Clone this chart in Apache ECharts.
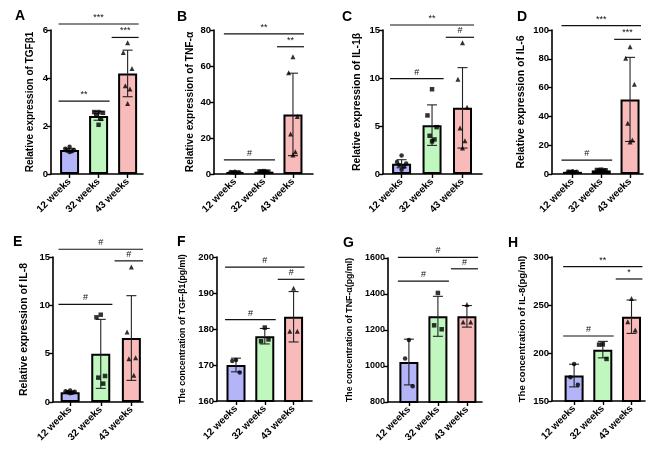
<!DOCTYPE html>
<html><head><meta charset="utf-8">
<script src="https://cdn.jsdelivr.net/npm/echarts@6/dist/echarts.min.js"></script>
<style>html,body{margin:0;padding:0;background:#fff}#c{width:669px;height:451px}</style>
</head><body><div id="c"></div>
<script>
// ---------- DATA ----------
const categories = ['12 weeks', '32 weeks', '43 weeks'];
const panelLetters = ['A', 'B', 'C', 'D', 'E', 'F', 'G', 'H'];
const yNames = [
  'Relative expression of TGFβ1',
  'Relative expression of TNF-α',
  'Relative expression of IL-1β',
  'Relative expression of IL-6',
  'Relative expression of IL-8',
  'The concentration of TGF-β1(pg/ml)',
  'The concentration of TNF-α(pg/ml)',
  'The concentration of IL-8(pg/ml)'
];
const yMin = [0, 0, 0, 0, 0, 160, 800, 150];
const yMax = [6, 80, 15, 100, 15, 200, 1600, 300];
const yStep = [2, 20, 5, 20, 5, 10, 200, 50];

// A: TGFβ1
const aMeans = [1.0, 2.42, 4.19];
const aSD = [0.07, 0.18, 0.97];
const aPoints = [[1.14, 1.05, 1.0, 0.98, 0.95, 0.92], [2.58, 2.58, 2.55, 2.45, 2.3, 2.05], [5.47, 5.06, 4.4, 3.68, 3.54, 2.94]];
const aBrackets = [[0, 1, 3.04], [1, 2, 5.69], [0, 2, 6.25]];
const aMarks = ['**', '***', '***'];
// B: TNF-α
const bMeans = [1.0, 1.3, 33.1];
const bSD = [0.2, 0.3, 22.9];
const bPoints = [[1.2, 1.1, 1.0, 1.0, 0.9, 0.8], [1.6, 1.5, 1.3, 1.2, 1.1, 1.1], [65.2, 56.3, 31.9, 22.2, 12.4, 10.6]];
const bBrackets = [[0, 1, 7.8], [1, 2, 70.7], [0, 2, 77.8]];
const bMarks = ['#', '**', '**'];
// C: IL-1β
const cMeans = [1.07, 5.09, 6.89];
const cSD = [0.42, 2.11, 4.19];
const cPoints = [[1.94, 1.25, 1.1, 0.95, 0.75, 0.45], [8.83, 6.1, 4.88, 3.98, 3.6, 3.4], [13.68, 9.87, 6.96, 4.78, 3.46, 2.7]];
const cBrackets = [[0, 1, 9.94], [1, 2, 14.24], [0, 2, 15.52]];
const cMarks = ['#', '#', '**'];
// D: IL-6
const dMeans = [1.5, 2.5, 51.8];
const dSD = [0.3, 0.4, 29.2];
const dPoints = [[1.9, 1.7, 1.5, 1.4, 1.3, 1.2], [3.0, 2.8, 2.6, 2.4, 2.2, 2.0], [88.4, 80.3, 62.3, 35.2, 23.6, 22.2]];
const dBrackets = [[0, 1, 9.7], [1, 2, 93.5], [0, 2, 103]];
const dMarks = ['#', '***', '***'];
// E: IL-8
const eMeans = [1.02, 4.98, 6.62];
const eSD = [0.1, 3.57, 4.38];
const ePoints = [[1.2, 1.1, 1.05, 1.0, 0.95, 0.9], [9.03, 8.76, 2.69, 2.52, 1.9], [13.97, 7.24, 4.59, 4.48, 2.76]];
const eBrackets = [[0, 1, 10.1], [1, 2, 14.6], [0, 2, 15.8]];
const eMarks = ['#', '#', '#'];
// F: TGF-β1 concentration
const fMeans = [170.0, 178.0, 183.4];
const fSD = [1.9, 2.15, 7.0];
const fPoints = [[171.4, 171.1, 167.9], [180.4, 176.6, 177.1], [191.3, 179.4, 179.4]];
const fBrackets = [[0, 1, 182.6], [1, 2, 193.8], [0, 2, 197.2]];
const fMarks = ['#', '#', '#'];
// G: TNF-α concentration
const gMeans = [1022, 1276, 1276];
const gSD = [127, 111, 60];
const gPoints = [[1145, 1042, 888], [1406, 1226, 1204], [1341, 1244, 1244]];
const gBrackets = [[0, 1, 1472], [1, 2, 1540], [0, 2, 1604]];
const gMarks = ['#', '#', '#'];
// H: IL-8 concentration
const hMeans = [176.5, 203.5, 237.8];
const hSD = [11.8, 8.6, 17.4];
const hPoints = [[188.5, 174.7, 167.0], [209.0, 208.7, 193.8], [256.9, 232.6, 223.9]];
const hBrackets = [[0, 1, 217.7], [1, 2, 277.1], [0, 2, 289.9]];
const hMarks = ['#', '*', '**'];

// ---------- LAYOUT / STYLE ----------
const FONT = '"Liberation Sans", Arial, sans-serif';
const barColors = ['#b4b4f8', '#bff7bf', '#f9baba'];
const symbols = ['circle', 'rect', 'triangle'];
const layout = [
  {left: 51, top: 30, width: 92, height: 144, xmin: -0.64, xmax: 2.53, gap: 16, ns: 10, ts: 9.5, lx: 15, ly: 9},
  {left: 214, top: 30, width: 99, height: 144, xmin: -0.72, xmax: 2.69, gap: 18.5, ns: 10.2, ts: 9.5, lx: 177, ly: 10},
  {left: 383, top: 30, width: 99, height: 144, xmin: -0.61, xmax: 2.64, gap: 21, ns: 10.4, ts: 9.5, lx: 342, ly: 10},
  {left: 552, top: 30, width: 91, height: 144, xmin: -0.71, xmax: 2.45, gap: 25, ns: 10.5, ts: 9.5, lx: 517, ly: 10},
  {left: 53, top: 257, width: 90, height: 145, xmin: -0.56, xmax: 2.38, gap: 23, ns: 10.5, ts: 9.5, lx: 13, ly: 235},
  {left: 217, top: 257, width: 95, height: 144, xmin: -0.66, xmax: 2.64, gap: 29.5, ns: 8.8, ts: 9.5, lx: 177, ly: 235},
  {left: 388, top: 258, width: 94, height: 144, xmin: -0.72, xmax: 2.52, gap: 33.5, ns: 8.8, ts: 9, lx: 343, ly: 236},
  {left: 552, top: 257, width: 93, height: 144, xmin: -0.77, xmax: 2.47, gap: 25, ns: 9.6, ts: 9.5, lx: 508, ly: 236}
];
const panels = [
  [aMeans, aSD, aPoints, aBrackets, aMarks],
  [bMeans, bSD, bPoints, bBrackets, bMarks],
  [cMeans, cSD, cPoints, cBrackets, cMarks],
  [dMeans, dSD, dPoints, dBrackets, dMarks],
  [eMeans, eSD, ePoints, eBrackets, eMarks],
  [fMeans, fSD, fPoints, fBrackets, fMarks],
  [gMeans, gSD, gPoints, gBrackets, gMarks],
  [hMeans, hSD, hPoints, hBrackets, hMarks]
];
const jitterPatterns = {
  3: [0, -0.13, 0.13],
  5: [0, -0.14, 0.14, -0.08, 0.08],
  6: [0, -0.15, 0.15, -0.08, 0.08, 0]
};

const grids = [], xAxes = [], yAxes = [], series = [], graphics = [];
panels.forEach((p, i) => {
  const [means, sds, pts, brackets, marks] = p;
  const L = layout[i];
  grids.push({left: L.left, top: L.top, width: L.width, height: L.height});
  xAxes.push({
    gridIndex: i, type: 'value', min: L.xmin, max: L.xmax,
    splitLine: {show: false},
    axisLine: {show: true, onZero: false, lineStyle: {color: '#000', width: 1.6}},
    axisTick: {show: true, customValues: [0, 1, 2], length: 4, lineStyle: {color: '#000', width: 1.4}},
    axisLabel: {customValues: [0, 1, 2], formatter: v => categories[Math.round(v)], rotate: 45, margin: 6,
      fontSize: 10, fontWeight: 'bold', color: '#000', fontFamily: FONT}
  });
  yAxes.push({
    gridIndex: i, type: 'value', min: yMin[i], max: yMax[i], interval: yStep[i],
    splitLine: {show: false},
    axisLine: {show: true, onZero: false, lineStyle: {color: '#000', width: 1.6}},
    axisTick: {show: true, length: 4, lineStyle: {color: '#000', width: 1.4}},
    axisLabel: {formatter: v => String(v), fontSize: L.ts, fontWeight: 'bold', color: '#000', margin: 3, fontFamily: FONT},
    name: yNames[i], nameLocation: 'middle', nameGap: L.gap,
    nameTextStyle: {fontSize: L.ns, fontWeight: 'bold', color: '#000', fontFamily: FONT}
  });
  series.push({
    type: 'bar', xAxisIndex: i, yAxisIndex: i, barWidth: 19, z: 2,
    itemStyle: {borderColor: '#000', borderWidth: 2},
    data: means.map((m, k) => ({value: [k, m], itemStyle: {color: barColors[k]}}))
  });
  series.push({
    type: 'custom', xAxisIndex: i, yAxisIndex: i, z: 3, silent: true,
    data: means.map((m, k) => [k, m, sds[k]]),
    renderItem: (params, api) => {
      const x = api.value(0), m = api.value(1), s = api.value(2);
      const t = api.coord([x, m + s]), b = api.coord([x, m - s]);
      const hw = 5, st = {stroke: '#222', lineWidth: 1.1};
      return {type: 'group', children: [
        {type: 'line', shape: {x1: t[0], y1: t[1], x2: b[0], y2: b[1]}, style: st},
        {type: 'line', shape: {x1: t[0] - hw, y1: t[1], x2: t[0] + hw, y2: t[1]}, style: st},
        {type: 'line', shape: {x1: b[0] - hw, y1: b[1], x2: b[0] + hw, y2: b[1]}, style: st}
      ]};
    }
  });
  pts.forEach((arr, k) => {
    const jp = jitterPatterns[arr.length] || arr.map(() => 0);
    series.push({
      type: 'scatter', xAxisIndex: i, yAxisIndex: i, z: 4, silent: true,
      symbol: symbols[k], symbolSize: k === 2 ? 5 : 4.5,
      itemStyle: {color: '#000'},
      data: arr.map((v, j) => [k + jp[j], v])
    });
  });
  series.push({
    type: 'custom', xAxisIndex: i, yAxisIndex: i, z: 5, silent: true, clip: false,
    data: brackets,
    renderItem: (params, api) => {
      const from = api.value(0), to = api.value(1), y = api.value(2);
      const a = api.coord([from + (from === 0 ? -0.38 : 0.45), y]);
      const b = api.coord([to + 0.38, y]);
      return {type: 'group', children: [
        {type: 'line', shape: {x1: a[0], y1: a[1], x2: b[0], y2: b[1]}, style: {stroke: '#111', lineWidth: 1.2}},
        {type: 'text', x: (a[0] + b[0]) / 2, y: a[1] - 2,
          style: {text: marks[params.dataIndex], align: 'center', verticalAlign: 'bottom', fontSize: 9,
            fill: '#111', fontFamily: FONT}}
      ]};
    }
  });
  graphics.push({type: 'text', left: L.lx, top: L.ly,
    style: {text: panelLetters[i], fontSize: 14, fontWeight: 'bold', fill: '#000', fontFamily: FONT}});
});

const chart = echarts.init(document.getElementById('c'));
chart.setOption({
  animation: false,
  backgroundColor: '#fff',
  grid: grids, xAxis: xAxes, yAxis: yAxes, series: series, graphic: graphics
});
</script></body></html>
